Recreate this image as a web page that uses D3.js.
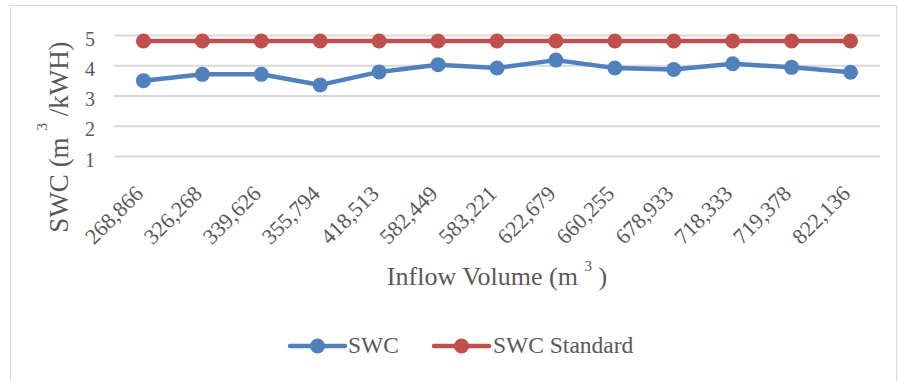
<!DOCTYPE html>
<html>
<head>
<meta charset="utf-8">
<script src="https://cdn.jsdelivr.net/npm/d3@7"></script>
<style>
  html, body { margin: 0; padding: 0; background: #fff; }
  svg { display: block; }
  svg text { font-family: 'Liberation Serif', 'Times New Roman', serif; fill: #595959; }
</style>
</head>
<body>
<svg id="chart" width="898" height="381" font-family="'Liberation Serif', 'Times New Roman', serif"></svg>
<script>
const categories = ["268,866","326,268","339,626","355,794","418,513","582,449","583,221","622,679","660,255","678,933","718,333","719,378","822,136"];
const swc = [3.49, 3.70, 3.70, 3.35, 3.78, 4.02, 3.91, 4.17, 3.91, 3.86, 4.05, 3.93, 3.77];
const swcStandard = [4.8, 4.8, 4.8, 4.8, 4.8, 4.8, 4.8, 4.8, 4.8, 4.8, 4.8, 4.8, 4.8];
const yTicks = [1, 2, 3, 4, 5];
const seriesNames = ["SWC", "SWC Standard"];
const colors = ["#4f81bd", "#c0504d"];

const svg = d3.select("#chart");
const FONT = "'Liberation Serif', 'Times New Roman', serif";

svg.append("rect").attr("x", 10.5).attr("y", 5.5).attr("width", 886).attr("height", 400)
  .attr("fill", "none").attr("stroke", "#d9d9d9").attr("stroke-width", 1);

const plot = { left: 114, right: 880, top: 35, bottom: 156 };
const x = d3.scaleBand().domain(categories).range([plot.left, plot.right]);
const y = d3.scaleLinear().domain([1, 5]).range([plot.bottom, plot.top]);

const yAxis = d3.axisLeft(y).tickValues(yTicks).tickSize(-(plot.right - plot.left)).tickPadding(19).tickFormat(d3.format("d"));
const gy = svg.append("g").attr("transform", `translate(${plot.left},0)`).call(yAxis)
  .attr("font-family", FONT);
gy.select(".domain").remove();
gy.selectAll(".tick line").attr("stroke", "#d9d9d9").attr("stroke-width", 2);
gy.selectAll(".tick text").attr("font-size", 20).attr("fill", "#595959").attr("dy", "0.5em");

const xAxis = d3.axisBottom(x).tickSize(0).tickPadding(0);
const gx = svg.append("g").attr("transform", `translate(0,${plot.bottom})`).call(xAxis)
  .attr("font-family", FONT);
gx.select(".domain").remove();
gx.selectAll(".tick text")
  .attr("font-size", 22).attr("fill", "#595959")
  .attr("text-anchor", "end")
  .attr("transform", "translate(1,39) rotate(-45)")
  .attr("dy", 0).attr("y", 0).attr("x", 0);

const series = [swc, swcStandard];
const line = d3.line().x((d, i) => x(categories[i]) + x.bandwidth() / 2).y(d => y(d));
series.forEach((s, k) => {
  svg.append("path").datum(s).attr("d", line).attr("fill", "none")
    .attr("stroke", colors[k]).attr("stroke-width", 4.5).attr("stroke-linejoin", "round").attr("stroke-linecap", "round");
  svg.append("g").selectAll("circle").data(s).join("circle")
    .attr("cx", (d, i) => x(categories[i]) + x.bandwidth() / 2)
    .attr("cy", d => y(d)).attr("r", 7.5).attr("fill", colors[k]);
});

const yt = svg.append("text").attr("transform", "translate(68,137) rotate(-90)")
  .attr("text-anchor", "middle").attr("font-size", 27);
yt.append("tspan").text("SWC (m ");
yt.append("tspan").attr("font-size", 15).attr("dy", -21).text("3");
yt.append("tspan").attr("dy", 21).text(" /kWH)");

const xt = svg.append("text").attr("x", 497).attr("y", 285).attr("text-anchor", "middle").attr("font-size", 26);
xt.append("tspan").text("Inflow Volume (m ");
xt.append("tspan").attr("font-size", 15).attr("dy", -14).text("3");
xt.append("tspan").attr("dy", 14).text(" )");

const legendItems = [{ x0: 290, tx: 348 }, { x0: 434, tx: 493 }];
legendItems.forEach((it, k) => {
  const g = svg.append("g");
  g.append("line").attr("x1", it.x0).attr("x2", it.x0 + 55).attr("y1", 346).attr("y2", 346)
    .attr("stroke", colors[k]).attr("stroke-width", 4.5).attr("stroke-linecap", "round");
  g.append("circle").attr("cx", it.x0 + 27.5).attr("cy", 346).attr("r", 7.5).attr("fill", colors[k]);
  g.append("text").attr("x", it.tx).attr("y", 353).attr("font-size", 23.5).text(seriesNames[k]);
});
</script>
</body>
</html>
